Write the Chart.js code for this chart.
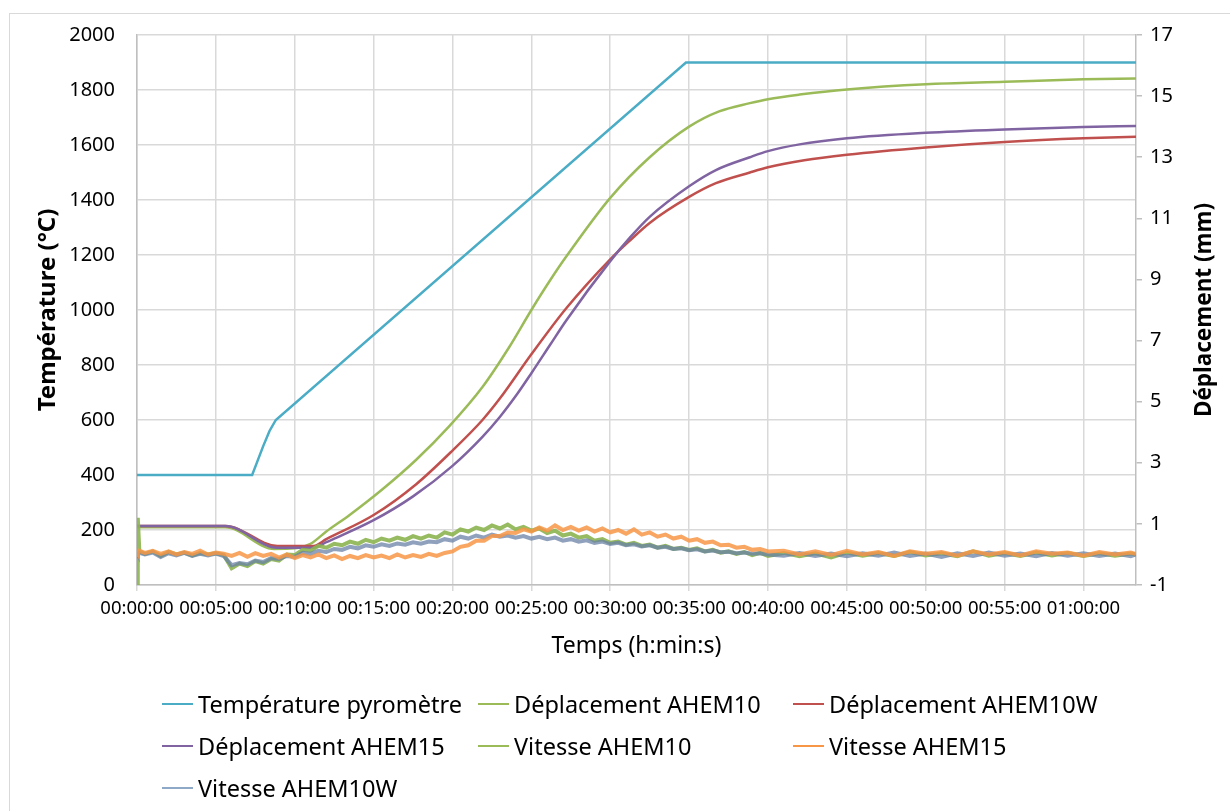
<!DOCTYPE html>
<html>
<head>
<meta charset="utf-8">
<script src="https://cdn.jsdelivr.net/npm/chart.js@4.4.0/dist/chart.umd.min.js"></script>
<style>
body { margin: 0; background: #fff; font-family: "Noto Sans", sans-serif; }
#wrap { position: relative; width: 1230px; height: 811px; overflow: hidden; }
#frame { position: absolute; left: 9px; top: 13px; width: 1240px; height: 820px; border: 1px solid #d9d9d9; }
canvas { position: absolute; left: 0; top: 0; }
.item { position: absolute; height: 30px; display: flex; align-items: center; font-size: 23.5px; color: #000; white-space: nowrap; }
.item .ln { display: inline-block; width: 31px; height: 2px; margin-right: 5px; }
</style>
</head>
<body>
<div id="wrap">
  <div id="frame"></div>
  <canvas id="chart" width="1230" height="811"></canvas>
  <div id="legend"></div>
</div>
<script>
// time in minutes
var tempTime = [0, 7.3, 7.6, 8.0, 8.4, 8.8, 34.8, 63.33];
var tempVal = [400, 400, 445, 505, 560, 600, 1900, 1900];

var d10Time = [0, 5.6, 8.7, 10, 11, 12, 13.5, 15.6, 17.7, 19.8, 21.9, 23.6, 25, 26.2, 27.2, 30, 32.5, 35, 36.9, 38.85, 40, 42, 45, 50, 55, 60, 63.33];
var d10Val = [0.89, 0.89, 0.18, 0.2, 0.35, 0.75, 1.3, 2.15, 3.1, 4.2, 5.48, 6.79, 8.0, 8.98, 9.74, 11.67, 13.0, 14.0, 14.5, 14.77, 14.9, 15.05, 15.22, 15.39, 15.47, 15.55, 15.58];

var d10WTime = [0, 5.6, 8.9, 11.2, 12, 15, 17.7, 20, 21.9, 23, 25, 27.2, 30, 31.3, 32.5, 35, 36.7, 38.85, 40, 42.3, 45, 50, 55, 60, 63.33];
var d10WVal = [0.93, 0.93, 0.28, 0.28, 0.5, 1.29, 2.3, 3.4, 4.4, 5.1, 6.55, 8.05, 9.66, 10.3, 10.85, 11.7, 12.15, 12.5, 12.67, 12.9, 13.08, 13.32, 13.5, 13.62, 13.67];

var d15Time = [0, 5.6, 8.9, 11.2, 12, 15, 17.5, 20, 21.9, 23, 24.1, 25, 26.2, 27.2, 30, 31.3, 32.5, 35, 36.7, 38.85, 40, 42, 45, 50, 55, 60, 63.33];
var d15Val = [0.93, 0.93, 0.22, 0.22, 0.4, 1.12, 1.9, 2.9, 3.85, 4.5, 5.25, 5.93, 6.87, 7.65, 9.6, 10.4, 11.05, 12.05, 12.58, 13.0, 13.2, 13.42, 13.62, 13.8, 13.91, 13.99, 14.02];

var vitTime = [0, 0.05, 0.15,
  0.5, 1, 1.5, 2, 2.5, 3, 3.5, 4, 4.5, 5, 5.5, 6, 6.5, 7, 7.5, 8, 8.5, 9, 9.5, 10,
  10.5, 11, 11.5, 12, 12.5, 13, 13.5, 14, 14.5, 15, 15.5, 16, 16.5, 17, 17.5, 18, 18.5, 19, 19.5, 20,
  20.5, 21, 21.5, 22, 22.5, 23, 23.5, 24, 24.5, 25, 25.5, 26, 26.5, 27, 27.5, 28, 28.5, 29, 29.5, 30,
  30.5, 31, 31.5, 32, 32.5, 33, 33.5, 34, 34.5, 35, 35.5, 36, 36.5, 37, 37.5, 38, 38.5, 39, 39.5, 40,
  41, 42, 43, 44, 45, 46, 47, 48, 49, 50, 51, 52, 53, 54, 55, 56, 57, 58, 59, 60, 61, 62, 63,
  63.3];
var v10Val = [-1.0, 1.2, 0.1,
  0.02, 0.1, -0.05, 0.08, 0.0, 0.06, -0.04, 0.05, 0.0, 0.04, -0.02, -0.45, -0.3, -0.38, -0.22, -0.3, -0.15, -0.2, 0.0, -0.02,
  0.15, 0.12, 0.28, 0.22, 0.35, 0.3, 0.42, 0.35, 0.48, 0.4, 0.52, 0.45, 0.55, 0.48, 0.6, 0.52, 0.62, 0.55, 0.72, 0.65,
  0.82, 0.75, 0.88, 0.8, 0.95, 0.85, 0.98, 0.82, 0.9, 0.78, 0.85, 0.7, 0.78, 0.62, 0.68, 0.55, 0.6, 0.45, 0.5, 0.38,
  0.42, 0.32, 0.38, 0.28, 0.32, 0.22, 0.28, 0.18, 0.22, 0.15, 0.2, 0.1, 0.15, 0.06, 0.1, 0.02, 0.08, -0.02, 0.05, -0.05,
  0.05, -0.06, 0.04, -0.1, 0.06, -0.04, 0.05, -0.05, 0.08, -0.03, 0.04, -0.06, 0.1, -0.04, 0.05, -0.05, 0.06, -0.03, 0.05, -0.05, 0.04, -0.04, 0.03,
  0.0];
var v15Val = [0.1, 0.05, 0.12,
  0.05, 0.12, 0.02, 0.1, 0.0, 0.08, 0.02, 0.12, 0.0, 0.06, 0.02, -0.05, 0.05, -0.08, 0.04, -0.05, 0.02, -0.1, 0.0, -0.12,
  -0.02, -0.1, 0.0, -0.12, -0.03, -0.15, -0.05, -0.12, -0.02, -0.1, -0.04, -0.12, 0.0, -0.1, -0.02, -0.08, 0.02, -0.05, 0.05, 0.1,
  0.25, 0.3, 0.45, 0.45, 0.6, 0.6, 0.72, 0.7, 0.82, 0.75, 0.88, 0.78, 0.95, 0.8, 0.9, 0.78, 0.88, 0.75, 0.85, 0.72,
  0.8, 0.68, 0.82, 0.65, 0.72, 0.58, 0.65, 0.52, 0.58, 0.45, 0.5, 0.38, 0.42, 0.3, 0.32, 0.22, 0.25, 0.15, 0.18, 0.1,
  0.12, 0.0, 0.1, -0.02, 0.12, 0.0, 0.08, -0.05, 0.1, 0.02, 0.08, -0.04, 0.1, 0.0, 0.08, -0.03, 0.1, 0.02, 0.06, -0.04, 0.08, 0.0, 0.06,
  0.02];
var v10WVal = [0.05, 0.0, 0.05,
  0.0, 0.06, -0.08, 0.04, -0.03, 0.05, -0.05, 0.02, -0.03, 0.03, -0.05, -0.35, -0.28, -0.32, -0.2, -0.25, -0.12, -0.15, -0.05, -0.08,
  0.05, 0.02, 0.12, 0.08, 0.18, 0.15, 0.25, 0.2, 0.3, 0.25, 0.33, 0.28, 0.36, 0.32, 0.4, 0.35, 0.42, 0.4, 0.5, 0.45,
  0.58, 0.52, 0.62, 0.55, 0.65, 0.58, 0.62, 0.55, 0.6, 0.52, 0.58, 0.5, 0.55, 0.45, 0.5, 0.42, 0.46, 0.38, 0.42, 0.34,
  0.38, 0.3, 0.33, 0.26, 0.3, 0.22, 0.25, 0.18, 0.2, 0.14, 0.17, 0.1, 0.13, 0.07, 0.09, 0.04, 0.06, 0.02, 0.04, 0.0,
  -0.04, 0.05, -0.05, 0.03, -0.06, 0.04, -0.04, 0.06, -0.05, 0.03, -0.08, 0.04, -0.05, 0.06, -0.04, 0.03, -0.06, 0.05, -0.04, 0.04, -0.05, 0.03, -0.06,
  0.0];

var seriesNames = ["Température pyromètre", "Déplacement AHEM10", "Déplacement AHEM10W",
                   "Déplacement AHEM15", "Vitesse AHEM10", "Vitesse AHEM15", "Vitesse AHEM10W"];
var seriesColors = ['#4BACC6', '#9BBB59', '#C0504D', '#8064A2', '#9BBB59', '#F79646', '#8EA9C8'];
var lineColors = ['#4BACC6', '#9BBB59', '#C0504D', '#8064A2',
                  'rgba(140,180,80,0.9)', 'rgba(247,150,70,0.85)', 'rgba(105,130,165,0.75)'];

var FONT = '"Noto Sans", sans-serif';

function pts(xs, ys) {
    return xs.map(function (x, i) { return { x: x, y: ys[i] }; });
}
function hms(m) {
    var s = Math.round(m * 60);
    var h = Math.floor(s / 3600), mi = Math.floor((s % 3600) / 60), se = s % 60;
    return [h, mi, se].map(function (v) { return String(v).padStart(2, '0'); }).join(':');
}

// right axis title reads bottom-to-top like the left one
var rightTitle = {
    id: 'rightTitle',
    afterDraw: function (chart) {
        var ctx = chart.ctx, a = chart.chartArea;
        ctx.save();
        ctx.translate(1205, (a.top + a.bottom) / 2);
        ctx.rotate(-Math.PI / 2);
        ctx.font = 'bold 22.5px ' + FONT;
        ctx.fillStyle = '#000';
        ctx.textAlign = 'center';
        ctx.textBaseline = 'middle';
        ctx.fillText('Déplacement (mm)', 0, 0);
        ctx.restore();
    }
};

var ctx = document.getElementById('chart');
var chart = new Chart(ctx, {
    type: 'line',
    data: {
        datasets: [
            { label: seriesNames[0], data: pts(tempTime, tempVal), yAxisID: 'yT', borderColor: lineColors[0], borderWidth: 2.5, tension: 0, order: 7 },
            { label: seriesNames[1], data: pts(d10Time, d10Val), yAxisID: 'yD', borderColor: lineColors[1], borderWidth: 2.5, cubicInterpolationMode: 'monotone', order: 6 },
            { label: seriesNames[2], data: pts(d10WTime, d10WVal), yAxisID: 'yD', borderColor: lineColors[2], borderWidth: 2.5, cubicInterpolationMode: 'monotone', order: 5 },
            { label: seriesNames[3], data: pts(d15Time, d15Val), yAxisID: 'yD', borderColor: lineColors[3], borderWidth: 2.5, cubicInterpolationMode: 'monotone', order: 4 },
            { label: seriesNames[4], data: pts(vitTime, v10Val), yAxisID: 'yD', borderColor: lineColors[4], borderWidth: 4, order: 3 },
            { label: seriesNames[5], data: pts(vitTime, v15Val), yAxisID: 'yD', borderColor: lineColors[5], borderWidth: 4, order: 1 },
            { label: seriesNames[6], data: pts(vitTime, v10WVal), yAxisID: 'yD', borderColor: lineColors[6], borderWidth: 4, order: 2 }
        ]
    },
    options: {
        responsive: false,
        animation: false,
        parsing: false,
        elements: { point: { radius: 0 }, line: { fill: false } },
        layout: { padding: { top: 35, left: 0, right: 0, bottom: 146 } },
        plugins: { legend: { display: false }, tooltip: { enabled: false } },
        scales: {
            x: {
                type: 'linear', min: 0, max: 63.33,
                afterFit: function (s) { s.height = 80; },
                ticks: {
                    stepSize: 5, includeBounds: false, autoSkip: false, maxRotation: 0, padding: 7,
                    color: '#000', font: { family: FONT, size: 18.5 },
                    callback: function (v) { return hms(v); }
                },
                grid: { color: '#d9d9d9', lineWidth: 1.5, tickLength: 6 },
                border: { color: '#bfbfbf', width: 1.5 },
                title: { display: true, text: 'Temps (h:min:s)', color: '#000', font: { family: FONT, size: 23 }, padding: { top: 5, bottom: 5 } }
            },
            yT: {
                position: 'left', min: 0, max: 2000,
                afterFit: function (s) { s.width = 137; },
                ticks: { stepSize: 200, padding: 22, color: '#000', font: { family: FONT, size: 20 },
                         callback: function (v) { return String(v); } },
                grid: { color: '#d9d9d9', lineWidth: 1.5, drawTicks: false },
                border: { color: '#bfbfbf', width: 1.5 },
                title: { display: true, text: 'Température (°C)', color: '#000', font: { family: FONT, size: 24, weight: 'bold' }, padding: { top: 34, bottom: 0 } }
            },
            yD: {
                position: 'right', min: -1, max: 17,
                afterFit: function (s) { s.width = 94; },
                ticks: { stepSize: 2, padding: 8, color: '#000', font: { family: FONT, size: 20 },
                         callback: function (v) { return String(v); } },
                grid: { drawOnChartArea: false, color: '#bfbfbf', lineWidth: 1.5, tickLength: 6 },
                border: { color: '#bfbfbf', width: 1.5 }
            }
        }
    },
    plugins: [rightTitle]
});

// legend laid out in three columns as in the original
var legendCols = [162, 478, 793];
var legendRows = [704, 746, 788];
var leg = document.getElementById('legend');
seriesNames.forEach(function (name, i) {
    var d = document.createElement('div');
    d.className = 'item';
    d.style.left = legendCols[i % 3] + 'px';
    d.style.top = (legendRows[Math.floor(i / 3)] - 15) + 'px';
    d.innerHTML = '<span class="ln" style="background:' + seriesColors[i] + '"></span>' + name;
    leg.appendChild(d);
});
</script>
</body>
</html>
